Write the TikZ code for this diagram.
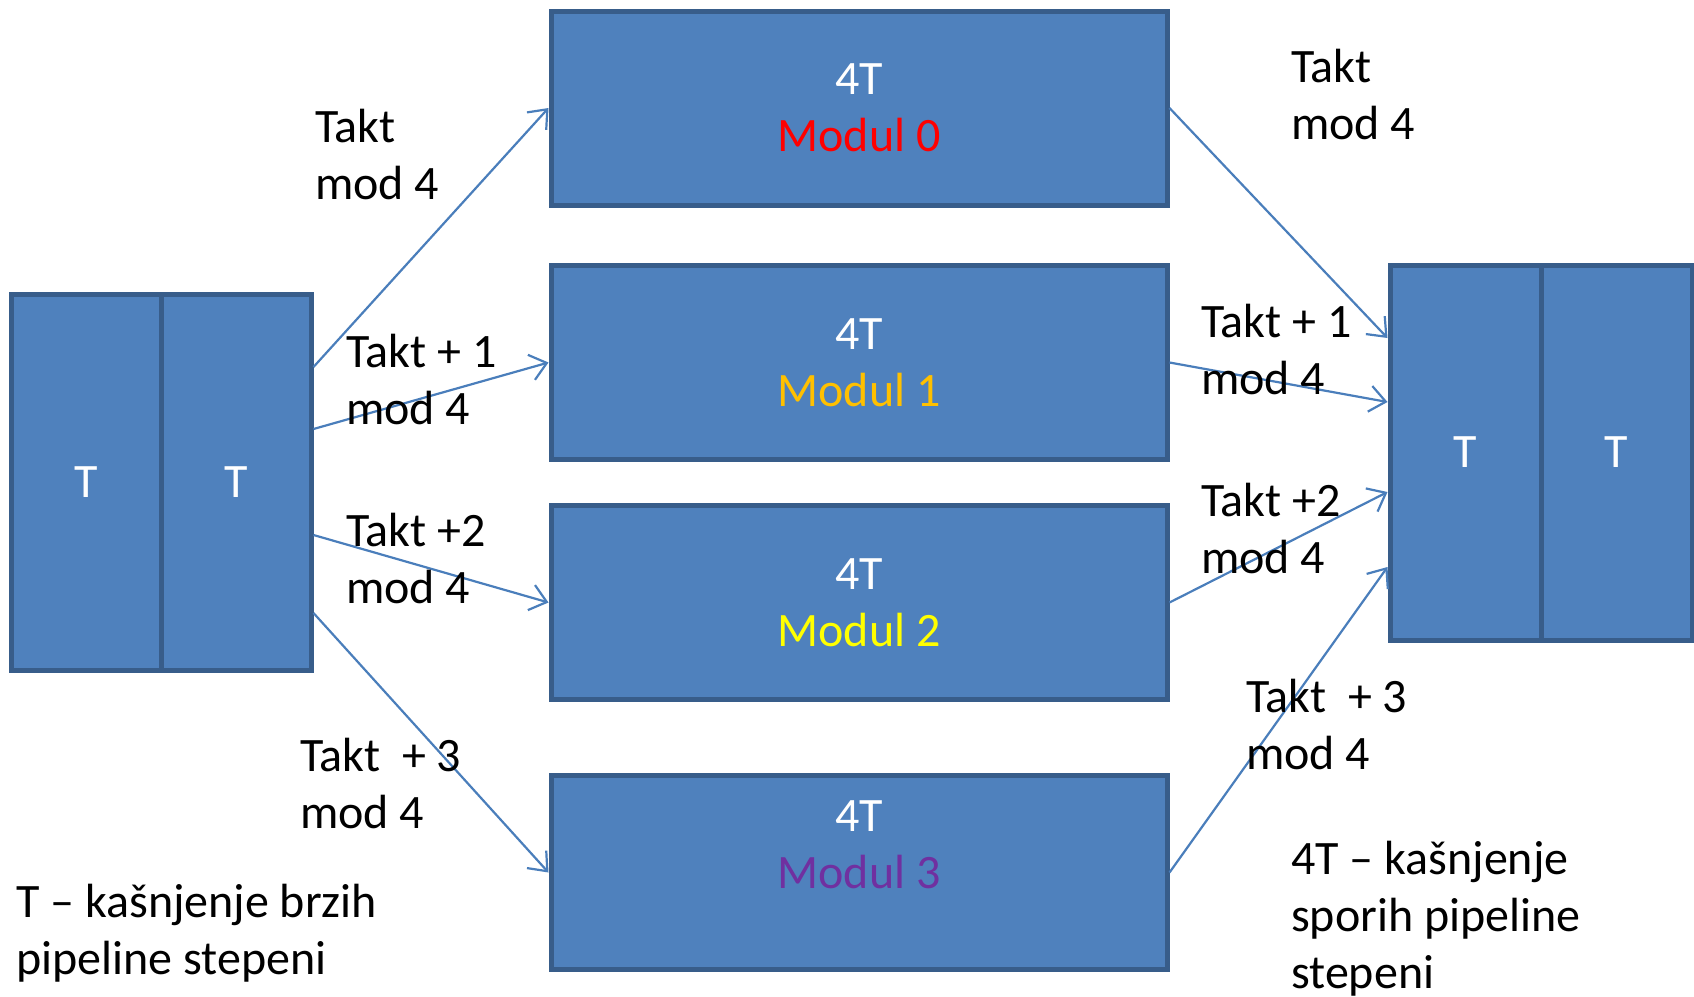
\documentclass[tikz,border=0pt]{standalone}
\usepackage{fontspec}
\setmainfont{Carlito}
\usetikzlibrary{arrows.meta}
\definecolor{boxfill}{HTML}{4F81BD}
\definecolor{boxedge}{HTML}{385D8A}
\definecolor{wire}{HTML}{4A7EBB}
\definecolor{modred}{HTML}{FF0000}
\definecolor{modorange}{HTML}{FFC000}
\definecolor{modyellow}{HTML}{FFFF00}
\definecolor{modpurple}{HTML}{7030A0}
\tikzset{
  bigtext/.style={font=\fontsize{48}{57}\selectfont},
  cell/.style={draw=boxedge, fill=boxfill, line width=5pt, inner sep=0pt,
    minimum width=150pt, minimum height=376pt, text=white, bigtext},
  module/.style={draw=boxedge, fill=boxfill, line width=5pt, inner sep=0pt,
    minimum width=616pt, minimum height=194pt, text=white, bigtext, align=center},
  lbl/.style={bigtext, align=left, anchor=west, inner sep=0pt, text=black},
  conn/.style={draw=wire, line width=2.2pt,
    -{Straight Barb[length=16pt,width=26pt,line width=2.2pt]}},
}
\begin{document}
\begin{tikzpicture}[x=1pt,y=-1pt]
\useasboundingbox (0,0) rectangle (1694,996);

% fast stages on the left
\node[cell] (la) at (86,482) {T};
\node[cell] (lb) at (236,482) {T};

% slow modules
\node[module] (m0) at (859,108) {4T\\\textcolor{modred}{Modul 0}};
\node[module] (m1) at (859,362.5) {4T\\\textcolor{modorange}{Modul 1}};
\node[module] (m2) at (859,602.5) {4T\\\textcolor{modyellow}{Modul 2}};
\node[module] (m3) at (859,872.5) {};
\node[bigtext, align=center, text=white, inner sep=0pt] (m3t) at (859,844.5)
  {4T\\\textcolor{modpurple}{Modul 3}};

% fast stages on the right
\node[cell, minimum height=375pt, minimum width=151pt] (ra) at (1465.5,452.5) {T};
\node[cell, minimum height=375pt, minimum width=151pt] (rb) at (1616.5,452.5) {T};

% outputs of the left block and inputs of the right block
\coordinate (l0) at (lb.east |- 0,367);
\coordinate (l1) at (lb.east |- 0,429);
\coordinate (l2) at (lb.east |- 0,535);
\coordinate (l3) at (lb.east |- 0,613);
\coordinate (r0) at (ra.west |- 0,338);
\coordinate (r1) at (ra.west |- 0,402);
\coordinate (r2) at (ra.west |- 0,492);
\coordinate (r3) at (ra.west |- 0,567);

\draw[conn] (l0) -- (m0.west);
\draw[conn] (l1) -- (m1.west);
\draw[conn] (l2) -- (m2.west);
\draw[conn] (l3) -- (m3.west);
\draw[conn] (m0.east) -- (r0);
\draw[conn] (m1.east) -- (r1);
\draw[conn] (m2.east) -- (r2);
\draw[conn] (m3.east) -- (r3);

% cycle labels
\node[lbl] (t0) at (315,154.5) {Takt\\mod 4};
\node[lbl] (t1) at (346,379.5) {Takt + 1\\mod 4};
\node[lbl] (t2) at (346,558.5) {Takt +2\\mod 4};
\node[lbl] (t3) at (300,783.5) {Takt\ \ + 3\\mod 4};
\node[lbl] (u0) at (1291,94) {Takt\\mod 4};
\node[lbl] (u1) at (1201,349) {Takt + 1\\mod 4};
\node[lbl] (u2) at (1201,528.5) {Takt +2\\mod 4};
\node[lbl] (u3) at (1246,724) {Takt\ \ + 3\\mod 4};

% legends
\node[lbl] (k1) at (16,933.5) {T – kašnjenje brzih\\pipeline stepeni};
\node[lbl] (k2) at (1291,918.5) {4T – kašnjenje\\sporih pipeline\\stepeni};
\end{tikzpicture}
\end{document}
